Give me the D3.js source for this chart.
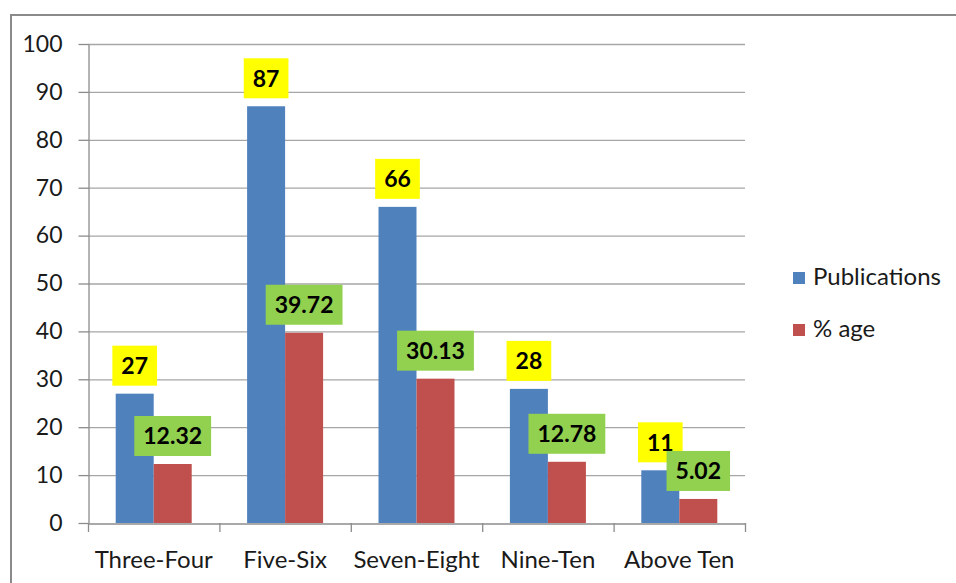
<!DOCTYPE html>
<html><head><meta charset="utf-8">
<script src="https://cdn.jsdelivr.net/npm/d3@7"></script>
<style>body{margin:0;background:#fff}svg{display:block}text{font-family:Lato,"Liberation Sans",sans-serif}</style>
</head><body><svg id="c" width="956" height="583"></svg>
<script>
const categories = ["Three-Four","Five-Six","Seven-Eight","Nine-Ten","Above Ten"];
const publications = [27, 87, 66, 28, 11];
const percentAge = [12.32, 39.72, 30.13, 12.78, 5.02];
const percentLabels = ["12.32","39.72","30.13","12.78","5.02"];
const seriesNames = ["Publications","% age"];
const yTicks = [0,10,20,30,40,50,60,70,80,90,100];

const svg = d3.select("#c");
const colors = ["#4F81BD","#C0504D"];
const boxColors = ["#FFFF00","#92D050"];

// outer frame
svg.append("rect").attr("x",11).attr("y",15).attr("width",960).attr("height",600)
  .attr("fill","none").attr("stroke","#8a8a8a").attr("stroke-width",2);

const L=88, R=745, T=44, B=523;
const x = d3.scaleBand().domain(categories).range([L,R]);
const y = d3.scaleLinear().domain([0,100]).range([B,T]);
const inner = d3.scaleBand().domain([0,1]).range([0,76]);

// gridlines
svg.append("g").selectAll("line").data(yTicks.filter(d=>d>0)).join("line")
  .attr("x1",L).attr("x2",R).attr("y1",d=>y(d)+0.5).attr("y2",d=>y(d)+0.5)
  .attr("stroke","#a6a6a6").attr("stroke-width",1.3);

// y axis
const ya = svg.append("g").attr("transform",`translate(${L+0.5},0)`)
  .call(d3.axisLeft(y).tickValues(yTicks).tickSize(10).tickPadding(16).tickSizeOuter(0));
ya.select(".domain").attr("stroke","#8c8c8c").attr("stroke-width",1.3);
ya.selectAll(".tick line").attr("stroke","#8c8c8c").attr("stroke-width",1.3);
ya.selectAll("text").attr("font-size",23).attr("fill","#1a1a1a").attr("font-family","Lato");

// x axis
const xa = svg.append("g").attr("transform",`translate(0,${B+0.5})`)
  .call(d3.axisBottom(x).tickSize(0).tickPadding(27).tickSizeOuter(0));
xa.select(".domain").attr("stroke","#8c8c8c").attr("stroke-width",1.3);
xa.selectAll("text").attr("font-size",24).attr("fill","#1a1a1a").attr("font-family","Lato");
// boundary ticks
const bounds = categories.map(c=>x(c)).concat([R]);
svg.append("g").selectAll("line").data(bounds).join("line")
  .attr("x1",d=>d+0.5).attr("x2",d=>d+0.5).attr("y1",B).attr("y2",B+9)
  .attr("stroke","#8c8c8c").attr("stroke-width",1.3);

const series = [publications, percentAge];
const labelTexts = [publications.map(String), percentLabels];
const barsG = svg.append("g");
series.forEach((vals,si)=>{
  barsG.selectAll(null).data(vals).join("rect")
    .attr("x",(d,i)=>x(categories[i]) + (x.bandwidth()-76)/2 + inner(si))
    .attr("width",inner.bandwidth())
    .attr("y",d=>y(d)).attr("height",d=>B-y(d))
    .attr("fill",colors[si]);
});
// labels
series.forEach((vals,si)=>{
  vals.forEach((v,i)=>{
    const cx = x(categories[i]) + (x.bandwidth()-76)/2 + inner(si) + inner.bandwidth()/2;
    const g = svg.append("g");
    const t = g.append("text").attr("x",cx).attr("y",y(v)-8-20+8.5)
      .attr("text-anchor","middle").attr("font-size",23).attr("font-weight","bold")
      .attr("fill","#000").text(labelTexts[si][i]);
    const w = t.node().getComputedTextLength();
    g.insert("rect","text").attr("x",cx-w/2-9).attr("width",w+18)
      .attr("y",y(v)-8-40).attr("height",40).attr("fill",boxColors[si]);
  });
});

// legend
const lg = svg.append("g");
seriesNames.forEach((n,i)=>{
  const yy = 272 + i*52;
  lg.append("rect").attr("x",793).attr("y",yy).attr("width",12).attr("height",12).attr("fill",colors[i]);
  lg.append("text").attr("x",813).attr("y",yy+13).attr("font-size",24).attr("fill","#1a1a1a").text(n);
});
</script></body></html>
